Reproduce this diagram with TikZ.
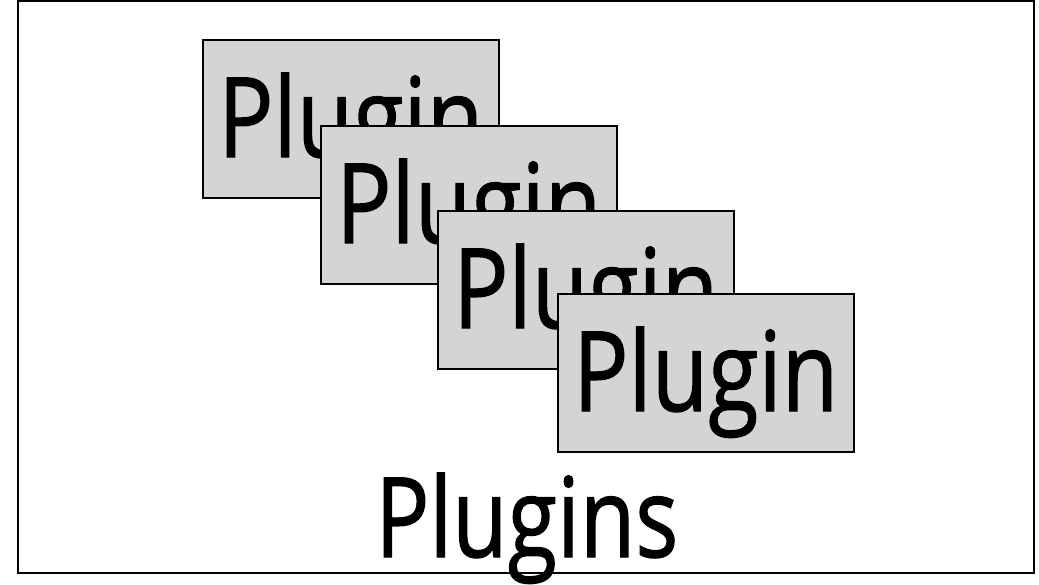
\documentclass[tikz,border=0pt]{standalone}
\usepackage{fontspec}
\setmainfont{Open Sans}[FakeBold=1.2]
\usepackage{graphicx}
\definecolor{boxgray}{RGB}{212,212,212}
\tikzset{
  frame/.style={draw=black, line width=2pt},
  plugbox/.style={draw=black, fill=boxgray, line width=1.6pt, minimum width=296pt, minimum height=158pt, inner sep=0pt, anchor=north west},
  plugtext/.style={anchor=base west, inner sep=0pt, font=\fontsize{111}{121}\selectfont},
}
\begin{document}
\begin{tikzpicture}[x=1pt,y=-1pt]
\useasboundingbox (0,0) rectangle (1039,584);
\draw[frame] (18,1) rectangle (1034,573);
\node[plugbox] (box1) at (202,39) {};
\node[plugtext] (text1) at (218,157) {\resizebox{265pt}{\height}{Plugin}};
\node[plugbox] (box2) at (320,125) {};
\node[plugtext] (text2) at (336,243) {\resizebox{265pt}{\height}{Plugin}};
\node[plugbox] (box3) at (437,210) {};
\node[plugtext] (text3) at (453,328) {\resizebox{265pt}{\height}{Plugin}};
\node[plugbox] (box4) at (557,293) {};
\node[plugtext] (text4) at (573,411) {\resizebox{265pt}{\height}{Plugin}};
\node[plugtext] (label) at (375,557) {\resizebox{303pt}{\height}{Plugins}};
\end{tikzpicture}
\end{document}
